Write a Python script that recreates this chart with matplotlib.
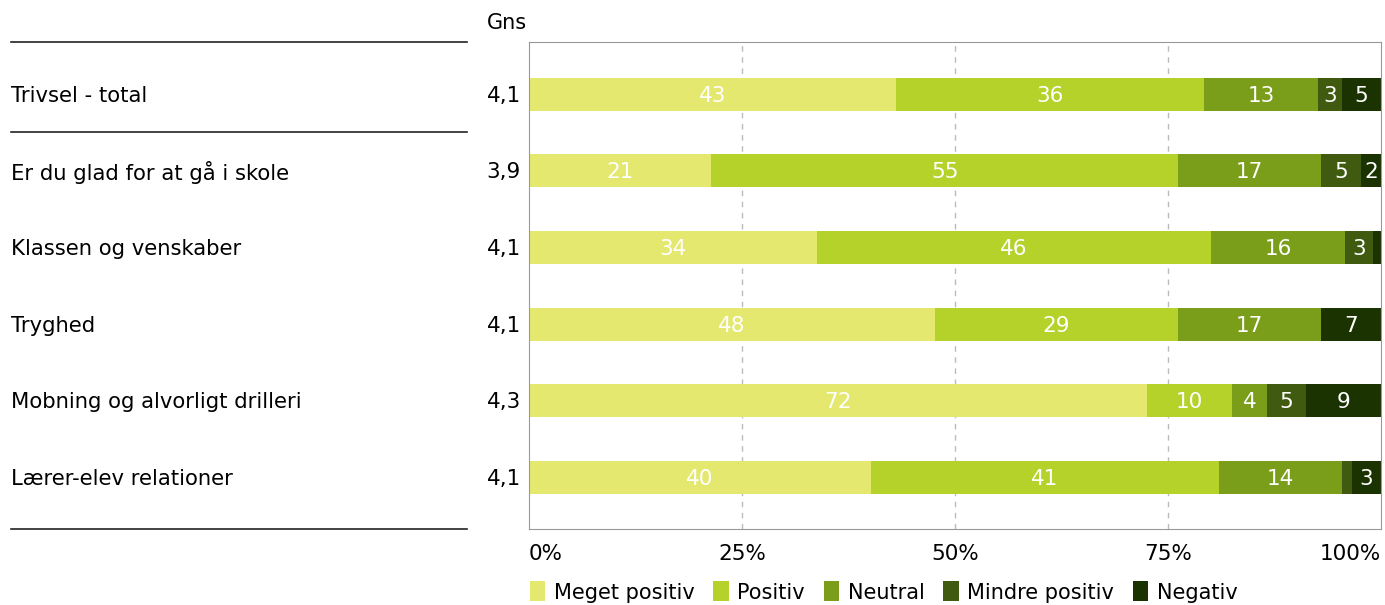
import matplotlib.pyplot as plt
from matplotlib.patches import Patch
from matplotlib.transforms import blended_transform_factory

categories = [
    "Trivsel - total",
    "Er du glad for at gå i skole",
    "Klassen og venskaber",
    "Tryghed",
    "Mobning og alvorligt drilleri",
    "Lærer-elev relationer",
]
gns = ["4,1", "3,9", "4,1", "4,1", "4,3", "4,1"]

series_names = ["Meget positiv", "Positiv", "Neutral", "Mindre positiv", "Negativ"]
meget_positiv = [43.1, 21.4, 33.8, 47.6, 72.5, 40.1]
positiv = [36.1, 54.8, 46.2, 28.6, 10.0, 40.9]
neutral = [13.4, 16.8, 15.8, 16.8, 4.1, 14.4]
mindre_positiv = [2.8, 4.7, 3.3, 0.0, 4.6, 1.2]
negativ = [4.6, 2.3, 0.9, 7.0, 8.8, 3.4]

colors = ["#e5e86e", "#b5d22b", "#7a9e1a", "#405b10", "#1b3300"]


def main():
    plt.rcParams["font.family"] = ["DejaVu Sans"]
    W, H = 1385, 605
    fig = plt.figure(figsize=(W / 100, H / 100), dpi=100)
    ax = fig.add_axes([529 / W, 1 - 529 / H, 852 / W, 487 / H])

    data = [meget_positiv, positiv, neutral, mindre_positiv, negativ]
    y = list(range(len(categories)))
    left = [0.0] * len(categories)
    for name, vals, col in zip(series_names, data, colors):
        ax.barh(y, vals, left=left, height=0.43, color=col, label=name)
        for i, v in enumerate(vals):
            if v >= 1.5:
                ax.text(left[i] + v / 2, i + 0.02, f"{v:.0f}", ha="center", va="center",
                        color="white", fontsize=15.5)
        left = [l + v for l, v in zip(left, vals)]

    ax.set_xlim(0, 100)
    ax.set_ylim(5.67, -0.68)
    ax.set_yticks([])
    ax.set_xticks([0, 25, 50, 75, 100])
    ax.set_xticklabels(["0%", "25%", "50%", "75%", "100%"], fontsize=15.5)
    tl = ax.get_xticklabels()
    tl[0].set_ha("left")
    tl[-1].set_ha("right")
    ax.tick_params(axis="x", length=0, pad=11)
    for s in ax.spines.values():
        s.set_color("#999999")
    for xv in [25, 50, 75]:
        ax.axvline(xv, color="#bbbbbb", linestyle=(0, (4, 4)), linewidth=1, zorder=0)

    # left side labels and Gns column
    trans = blended_transform_factory(fig.transFigure, ax.transData)
    for i, cat in enumerate(categories):
        fig.text(11 / W, i + 0.02, cat, transform=trans, fontsize=15.2, va="center", ha="left")
        ax.text(-8 / 852 * 100, i + 0.02, gns[i], ha="right", va="center", fontsize=15.5,
                clip_on=False)
    fig.text(487 / W, 1 - 23 / H, "Gns", fontsize=15, va="center", ha="left")

    for yv in [-0.68, 0.5, 5.67]:
        ax.plot([11 / W, 467 / W], [yv, yv], transform=trans, color="#222222",
                linewidth=1.2, clip_on=False)

    handles = [Patch(facecolor=c, label=n) for n, c in zip(series_names, colors)]
    fig.legend(handles=handles, loc="center left", bbox_to_anchor=(511 / W, 1 - 592 / H),
               ncol=5, frameon=False, fontsize=15, handlelength=0.75, handleheight=1.1,
               handletextpad=0.4, columnspacing=0.9)

    fig.savefig("out.png", dpi=100)
    plt.close(fig)


if __name__ == "__main__":
    main()
